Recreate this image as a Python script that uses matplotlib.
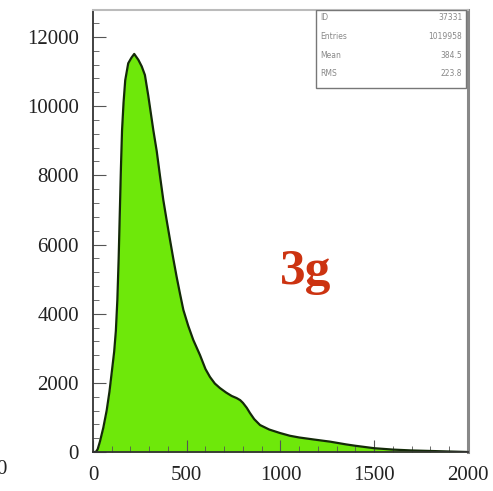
import matplotlib
matplotlib.use("Agg")
import matplotlib.pyplot as plt
from matplotlib.ticker import MultipleLocator

# outline of the histogram
x_vals = [0, 15, 25, 37, 55, 73, 88, 100, 113, 122, 130, 137, 143, 149, 155,
          163, 172, 188, 205, 220, 242, 260, 277, 295, 322, 340, 357, 375,
          393, 411, 428, 446, 464, 482, 508, 535, 571, 600, 624, 650, 677,
          710, 740, 766, 785, 800, 820, 837, 860, 891, 940, 997, 1050, 1100,
          1180, 1264, 1350, 1400, 1500, 1600, 1700, 1800, 1900, 2000]
y_vals = [0, 0, 80, 300, 700, 1200, 1750, 2300, 2900, 3500, 4400, 5600,
          6900, 8200, 9300, 10100, 10750, 11240, 11400, 11510, 11340, 11150,
          10900, 10300, 9300, 8700, 8000, 7290, 6700, 6130, 5600, 5070, 4580,
          4110, 3650, 3240, 2800, 2400, 2170, 1980, 1850, 1720, 1620, 1560,
          1500, 1420, 1280, 1130, 950, 780, 650, 550, 470, 420, 360, 300, 220,
          180, 110, 70, 45, 30, 15, 0]

stat_names = ["ID", "Entries", "Mean", "RMS"]
stat_values = ["37331", "1019958", "384.5", "223.8"]

x_ticks = [0, 500, 1000, 1500, 2000]
y_ticks = [0, 2000, 4000, 6000, 8000, 10000, 12000]

serif = ["Liberation Serif", "DejaVu Serif"]

fig = plt.figure(figsize=(4.93, 4.91), dpi=100)
ax = fig.add_axes([0.1886, 0.0794, 0.7606, 0.9002])

ax.fill_between(x_vals, y_vals, 0, color="#6ee80a", linewidth=0)
ax.plot(x_vals, y_vals, color="#142a08", lw=1.6)

ax.set_xlim(0, 2000)
ax.set_ylim(0, 12780)
ax.set_xticks(x_ticks)
ax.set_yticks(y_ticks)
ax.xaxis.set_minor_locator(MultipleLocator(100))
ax.yaxis.set_minor_locator(MultipleLocator(400))
ax.tick_params(which="both", direction="in", top=False, right=False,
               colors="#555555", labelcolor="#222222")
ax.tick_params(which="major", length=9, width=0.8, labelsize=15, pad=10)
ax.tick_params(which="minor", length=4, width=0.6)
for lab in ax.get_xticklabels() + ax.get_yticklabels():
    lab.set_family(serif)
for side in ["left", "bottom"]:
    ax.spines[side].set_color("#333333")
    ax.spines[side].set_linewidth(1.3)
ax.spines["right"].set_color("#888888")
ax.spines["right"].set_linewidth(2.2)
ax.spines["top"].set_color("#bbbbbb")
ax.spines["top"].set_linewidth(1.5)

# stats box (ROOT style)
box = plt.Rectangle((0.595, 0.824), 0.4, 0.176, transform=ax.transAxes,
                    facecolor="white", edgecolor="#777777", lw=1.0, zorder=3)
ax.add_patch(box)
for i, (nm, val) in enumerate(zip(stat_names, stat_values)):
    yy = 0.982 - i * 0.042
    ax.text(0.605, yy, nm, transform=ax.transAxes, fontsize=5.5,
            color="#888888", va="center", zorder=4)
    ax.text(0.985, yy, val, transform=ax.transAxes, fontsize=5.5,
            color="#888888", va="center", ha="right", zorder=4)

ax.text(0.566, 0.408, "3g", transform=ax.transAxes, fontsize=37,
        fontweight="bold", color="#cc3311", ha="center", va="center",
        family=serif)

# cut label from the neighbouring panel
fig.text(0.003, 0.043, "0", fontsize=15, color="#222222", ha="center",
         va="center", family=serif)

fig.savefig("out.png", dpi=100)
